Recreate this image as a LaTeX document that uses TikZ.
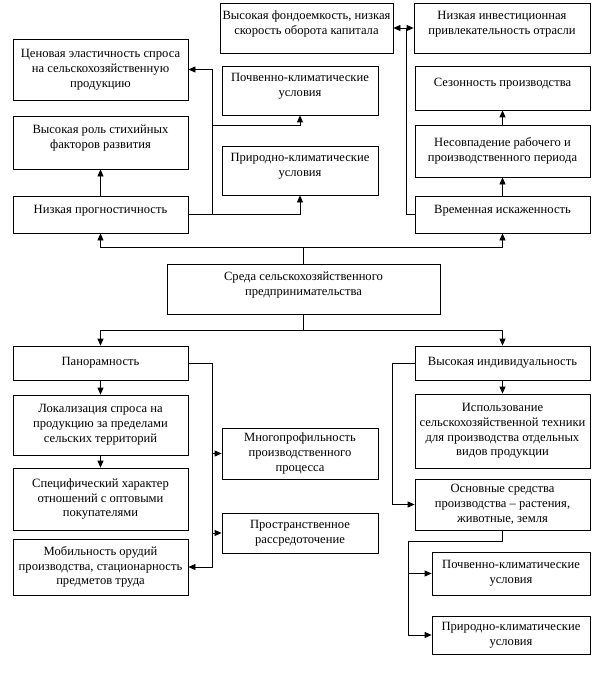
\documentclass[tikz,border=0pt]{standalone}
\usepackage{fontspec}
\setmainfont{Liberation Serif}
\usepackage{tikz}
\usetikzlibrary{arrows.meta,positioning}

\begin{document}
\begin{tikzpicture}[x=1pt, y=-1pt, line width=0.8pt,
    font=\fontsize{12.6}{14.8}\selectfont,
    box/.style={draw, align=center, inner sep=1pt, minimum width=175pt},
    raised/.style={text depth=11pt},
    arr/.style={-{Triangle[length=7pt,width=6pt]}},
    twoarr/.style={{Triangle[length=7pt,width=6pt]}-{Triangle[length=7pt,width=6pt]}}]
  \useasboundingbox (0,0) rectangle (594,674);
  % Upper part
  \node[box, minimum height=61pt] (elast) at (100.5,69.5)
      {Ценовая эластичность спроса\\на сельскохозяйственную\\продукцию};
  \node[box, raised, minimum height=53pt] (rol) at (100.5,142.5)
      {Высокая роль стихийных\\факторов развития};
  \node[box, raised, minimum height=37pt] (prog) at (100.5,214.5)
      {Низкая прогностичность};
  \node[box, raised, minimum width=173pt, minimum height=50pt] (fond) at (306.5,28)
      {Высокая фондоемкость, низкая\\скорость оборота капитала};
  \node[box, raised, minimum width=156pt, minimum height=49pt] (pochvA) at (300,90.5)
      {Почвенно-климатические\\условия};
  \node[box, raised, minimum width=156pt, minimum height=49pt] (prirodA) at (300,170.5)
      {Природно-климатические\\условия};
  \node[box, raised, minimum width=176pt, minimum height=50pt] (invest) at (502,28)
      {Низкая инвестиционная\\привлекательность отрасли};
  \node[box, raised, minimum height=44pt] (sezon) at (502.5,88)
      {Сезонность производства};
  \node[box, minimum height=52pt] (nesov) at (502.5,151)
      {Несовпадение рабочего и\\производственного периода};
  \node[box, raised, minimum height=37pt] (vrem) at (502.5,214.5)
      {Временная искаженность};
  % Centre
  \node[box, raised, minimum width=273pt, minimum height=50pt] (sreda) at (303.5,289)
      {Среда сельскохозяйственного\\предпринимательства};
  % Lower part
  \node[box, minimum height=34pt] (pan) at (100.5,363) {Панорамность};
  \node[box, minimum height=60pt] (lok) at (100.5,425)
      {Локализация спроса на\\продукцию за пределами\\сельских территорий};
  \node[box, minimum height=62pt] (spec) at (100.5,499)
      {Специфический характер\\отношений с оптовыми\\покупателями};
  \node[box, minimum height=56pt] (mob) at (100.5,567)
      {Мобильность орудий\\производства, стационарность\\предметов труда};
  \node[box, minimum width=156pt, minimum height=51pt] (mnogo) at (300,453.5)
      {Многопрофильность\\производственного\\процесса};
  \node[box, minimum width=156pt, minimum height=40pt] (prostr) at (300,533)
      {Пространственное\\рассредоточение};
  \node[box, minimum height=34pt] (indiv) at (502.5,363) {Высокая индивидуальность};
  \node[box, minimum height=74pt] (ispol) at (502.5,431)
      {Использование\\сельскохозяйственной техники\\для производства отдельных\\видов продукции};
  \node[box, minimum height=51pt] (osn) at (502.5,504.5)
      {Основные средства\\производства – растения,\\животные, земля};
  \node[box, minimum width=158pt, minimum height=43pt] (pochvB) at (511,573.5)
      {Почвенно-климатические\\условия};
  \node[box, minimum width=158pt, minimum height=38pt] (prirodB) at (511,635)
      {Природно-климатические\\условия};
  % Junction points
  \coordinate (up) at (303.5,247);
  \coordinate (down) at (303.5,330);
  \coordinate (lbus) at (212,214.5);
  \coordinate (lmid) at (212,125);
  \coordinate (rbus) at (406,28);
  \coordinate (pbus) at (212,363);
  \coordinate (ibus) at (392,363);
  \coordinate (obus) at (408,541);
  % Connectors, top
  \draw (sreda.north) -- (up);
  \draw[arr] (up) -| (prog.south);
  \draw[arr] (up) -| (vrem.south);
  \draw[arr] (prog.north) -- (rol.south);
  \draw[arr] (prog.east) -| (prirodA.south);
  \draw[arr] (lbus) |- (elast.east);
  \draw[arr] (lmid) -| (pochvA.south);
  \draw[arr] (vrem.north) -- (nesov.south);
  \draw[arr] (nesov.north) -- (sezon.south);
  \draw (vrem.west) -| (rbus);
  \draw[twoarr] (fond.east) -- (invest.west);
  % Connectors, bottom
  \draw (sreda.south) -- (down);
  \draw[arr] (down) -| (pan.north);
  \draw[arr] (down) -| (indiv.north);
  \draw[arr] (pan.south) -- (lok.north);
  \draw[arr] (lok.south) -- (spec.north);
  \draw[arr] (pan.east) -- (pbus) |- (mob.east);
  \draw[arr] (pbus |- mnogo.west) -- (mnogo.west);
  \draw[arr] (pbus |- prostr.west) -- (prostr.west);
  \draw[arr] (indiv.south) -- (ispol.north);
  \draw[arr] (indiv.west) -- (ibus) |- (osn.west);
  \draw (osn.south) |- (obus);
  \draw[arr] (obus) |- (prirodB.west);
  \draw[arr] (obus |- pochvB.west) -- (pochvB.west);
\end{tikzpicture}
\end{document}
